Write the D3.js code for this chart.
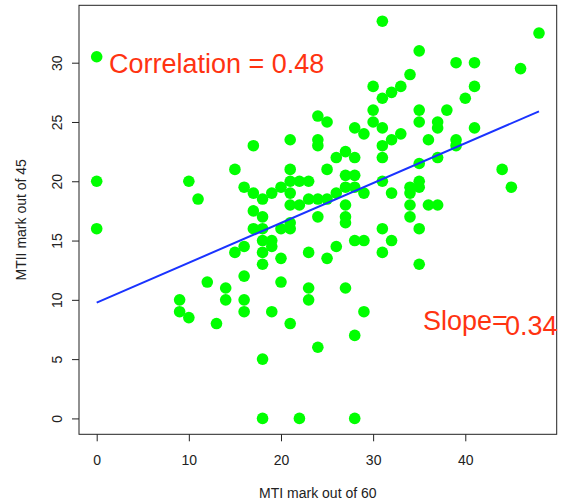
<!DOCTYPE html>
<html><head><meta charset="utf-8"><script src="https://d3js.org/d3.v7.min.js"></script>
<style>body{margin:0;background:#fff;}</style></head>
<body>
<script>
// MTI mark (x) and MTII mark (y), one entry per student
const mti  = [0,0,0, 9,9, 10,10, 11, 12, 13, 14,14, 15,15, 16,16,16,16,16,
  17,17,17,17, 18,18,18,18,18,18,18,18, 19,19,19,19, 20,20,20,20,
  21,21,21,21,21,21,21,21, 22,22,22, 23,23,23,23,23, 24,24,24,24,24,24,
  25,25,25,25, 26,26,26, 27,27,27,27,27,27,27, 28,28,28,28,28,28,28,
  29,29,29,29, 30,30,30, 31,31,31,31,31,31,31,31, 32,32,32,32, 33,33,
  34,34,34,34,34, 35,35,35,35,35,35,35,35, 36,36, 37,37,37,37, 38,
  39,39,39, 40, 41,41,41, 44, 45, 46, 48];
const mtii = [30.5,20,16, 10,9, 20,8.5, 18.5, 11.5, 8, 11,10, 21,14, 19.5,14.5,12,10,9,
  23,19,17.5,16, 18.5,17,16,15,14,13,5,0, 19,15,14.5,9, 19.5,16,13.5,11.5,
  23.5,21,20,19,18,16.5,16,8, 20,18,0, 20,18.5,14,11,10, 25.5,23.5,23,18.5,17,6,
  25,21,18.5,13.5, 22,19,14.5, 22.5,20.5,19.5,18,17,16.5,11, 24.5,22,20.5,19.5,15,7,0,
  24,19,15,9, 28,26,25, 33.5,27,24.5,23,22,20,16,14, 27.5,23.5,19,15, 28,24,
  29,19.5,19,18,17, 31,26,25,21.5,20,19.5,16,13, 23.5,18, 25,24.5,22,18, 26,
  30,23.5,23, 27, 30,28,24.5, 21, 19.5, 29.5, 32.5];

const xTicks = [0,10,20,30,40];
const yTicks = [0,5,10,15,20,25,30];
const fitIntercept = 9.77;
const fitSlope = 0.336;
const corrLabel = "Correlation = 0.48";
const slopeLabel = ["Slope=", "0.34"];

const W = 561, H = 504;
const pL = 79, pR = 556.7, pT = 5.3, pB = 434.3;
const font = "Liberation Sans, Arial, Helvetica, sans-serif";

const svg = d3.select("body").append("svg")
  .attr("width", W).attr("height", H)
  .style("font-family", font);

// R style: 4% padding on each side of data range
const xMin = d3.min(mti), xMax = d3.max(mti);
const yMin = d3.min(mtii), yMax = d3.max(mtii);
const xPad = (xMax - xMin) * 0.04, yPad = (yMax - yMin) * 0.04;

const x = d3.scaleLinear().domain([xMin - xPad, xMax + xPad]).range([pL, pR]);
const y = d3.scaleLinear().domain([yMin - yPad, yMax + yPad]).range([pB, pT]);

const pts = mti.map(function(d, i) { return {x: d, y: mtii[i]}; });

// points
svg.append("g").selectAll("circle")
  .data(pts)
  .enter()
  .append("circle")
  .attr("cx", function(d) { return x(d.x); })
  .attr("cy", function(d) { return y(d.y); })
  .attr("r", 5.8)
  .attr("fill", "#00ff00");

// fitted line from min to max x
svg.append("line")
  .attr("x1", x(xMin)).attr("y1", y(fitIntercept + fitSlope * xMin))
  .attr("x2", x(xMax)).attr("y2", y(fitIntercept + fitSlope * xMax))
  .attr("stroke", "#1a33ff")
  .attr("stroke-width", 2);

// box
svg.append("rect")
  .attr("x", pL).attr("y", pT)
  .attr("width", pR - pL).attr("height", pB - pT)
  .attr("fill", "none")
  .attr("stroke", "#222")
  .attr("stroke-width", 1);

// x axis
const xa = svg.append("g")
  .attr("transform", "translate(0," + pB + ")")
  .call(d3.axisBottom(x).tickValues(xTicks).tickSize(7).tickPadding(0));
xa.select(".domain").remove();
xa.selectAll("line").attr("stroke", "#222");
xa.selectAll("text")
  .attr("y", 31).attr("dy", null)
  .attr("font-size", 14).attr("font-family", font).attr("fill", "#222");

// y axis, labels parallel to the axis
const ya = svg.append("g")
  .attr("transform", "translate(" + pL + ",0)")
  .call(d3.axisLeft(y).tickValues(yTicks).tickSize(7));
ya.select(".domain").remove();
ya.selectAll("line").attr("stroke", "#222");
ya.selectAll("text")
  .attr("x", null).attr("dy", null)
  .attr("transform", "translate(-17,0) rotate(-90)")
  .attr("text-anchor", "middle")
  .attr("font-size", 14).attr("font-family", font).attr("fill", "#222");

// axis titles
svg.append("text")
  .attr("x", (pL + pR) / 2).attr("y", 498)
  .attr("text-anchor", "middle")
  .attr("font-size", 14).attr("fill", "#222")
  .text("MTI mark out of 60");

svg.append("text")
  .attr("transform", "translate(26," + (pT + pB) / 2 + ") rotate(-90)")
  .attr("text-anchor", "middle")
  .attr("font-size", 14).attr("fill", "#222")
  .text("MTII mark out of 45");

// annotations
svg.append("text")
  .attr("x", 109).attr("y", 73)
  .attr("font-size", 27).attr("fill", "#ff3311")
  .text(corrLabel);

svg.append("text")
  .attr("x", 423).attr("y", 330)
  .attr("font-size", 27).attr("fill", "#ff3311")
  .text(slopeLabel[0]);
svg.append("text")
  .attr("x", 505).attr("y", 335)
  .attr("font-size", 27).attr("fill", "#ff3311")
  .text(slopeLabel[1]);
</script>
</body></html>
